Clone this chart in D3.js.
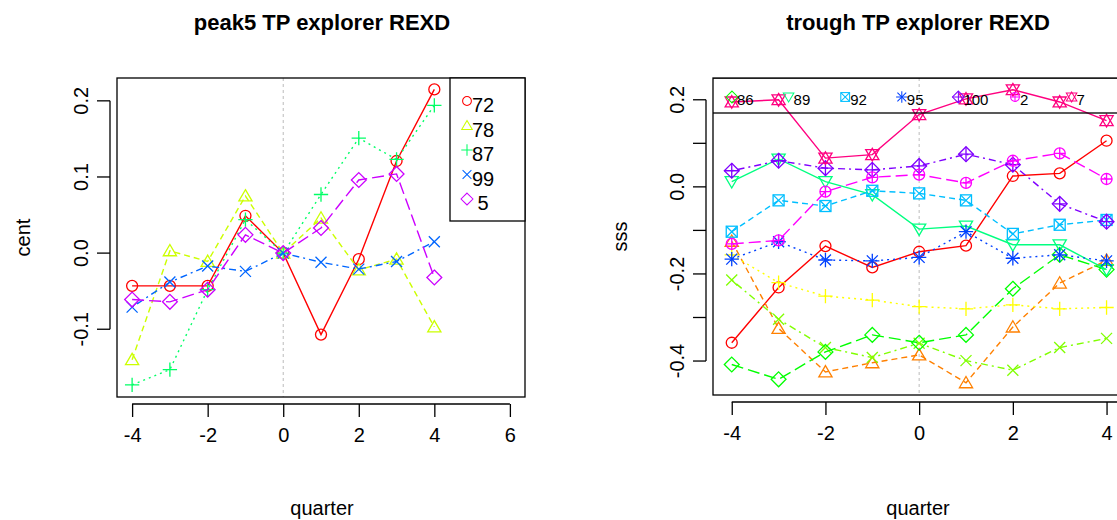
<!DOCTYPE html>
<html><head><meta charset="utf-8">
<script src="https://cdn.jsdelivr.net/npm/d3@7"></script>
<style>body{margin:0;background:#fff}svg{font-family:"Liberation Sans",Arial,sans-serif}</style>
</head><body><svg id="c" width="1117" height="520"></svg>
<script>
const quarters=[-4,-3,-2,-1,0,1,2,3,4];
const xTicks=[-4,-2,0,2,4,6];
// left panel
const leftNames=["72","78","87","99"," 5"];
const leftColors=["#FF0000","#CCFF00","#00FF66","#0066FF","#CC00FF"];
const leftVals=[
 [-0.043,-0.043,-0.043,0.049,0,-0.107,-0.008,0.121,0.215],
 [-0.14,0.003,-0.011,0.075,0,0.046,-0.022,-0.008,-0.097],
 [-0.173,-0.153,-0.048,0.044,0,0.077,0.151,0.123,0.194],
 [-0.071,-0.038,-0.017,-0.024,0,-0.012,-0.021,-0.011,0.015],
 [-0.061,-0.064,-0.048,0.024,0,0.033,0.096,0.104,-0.032]];
const leftYTicks=[-0.1,0,0.1,0.2];
// right panel
const rightNames=["74","77","80","83","86","89","92","95","100","2","7","12"];
const rightColors=["#FF0000","#FF8000","#FFFF00","#80FF00","#00FF00","#00FF80","#00BFFF","#0040FF","#8000FF","#FF00FF","#FF0080","#FF0040"];
const rightVals=[
 [-0.358,-0.231,-0.136,-0.185,-0.149,-0.135,0.025,0.031,0.106],
 [-0.125,-0.325,-0.425,-0.404,-0.386,-0.45,-0.322,-0.221,-0.169],
 [-0.156,-0.22,-0.251,-0.26,-0.275,-0.28,-0.271,-0.28,-0.277],
 [-0.214,-0.304,-0.369,-0.392,-0.359,-0.399,-0.421,-0.369,-0.348],
 [-0.408,-0.442,-0.379,-0.34,-0.358,-0.34,-0.234,-0.156,-0.19],
 [0.012,0.064,0.012,-0.018,-0.097,-0.09,-0.133,-0.133,-0.19],
 [-0.103,-0.031,-0.044,-0.009,-0.015,-0.031,-0.108,-0.087,-0.076],
 [-0.166,-0.126,-0.168,-0.17,-0.162,-0.103,-0.164,-0.156,-0.17],
 [0.037,0.06,0.043,0.039,0.048,0.075,0.051,-0.039,-0.08],
 [-0.131,-0.123,-0.011,0.022,0.028,0.009,0.06,0.077,0.018],
 [0.195,0.2,0.066,0.074,0.166,0.202,0.223,0.195,0.152],
 null];
const rightYTicks=[-0.4,-0.3,-0.2,-0.1,0,0.1,0.2];
const rightYLabels=[-0.4,-0.2,0,0.2];
const dashes=[null,"6,4","2,4","2,4,7,4","12,5"];

const svg=d3.select("#c");
const fmt=d=>d3.format(".1f")(d).replace("\u2212","-");
function sym(g,pch,x,y,col){
 const s=g.append("g").attr("transform",`translate(${x},${y})`).attr("stroke",col).attr("fill","none").attr("stroke-width",1.3);
 const r=5.5;
 const circle=()=>s.append("circle").attr("r",r);
 const tri=(d)=>s.append("path").attr("d",d>0?`M0,${-r*1.15}L${r*1.2},${r*0.9}L${-r*1.2},${r*0.9}Z`:`M0,${r*1.15}L${r*1.2},${-r*0.9}L${-r*1.2},${-r*0.9}Z`);
 const plus=()=>s.append("path").attr("d",`M${-r*1.3},0H${r*1.3}M0,${-r*1.3}V${r*1.3}`);
 const cross=()=>s.append("path").attr("d",`M${-r},${-r}L${r},${r}M${-r},${r}L${r},${-r}`);
 const diam=()=>s.append("path").attr("d",`M0,${-r*1.35}L${r*1.35},0L0,${r*1.35}L${-r*1.35},0Z`);
 const sq=()=>s.append("rect").attr("x",-r).attr("y",-r).attr("width",2*r).attr("height",2*r);
 switch(pch){
  case 1:circle();break;case 2:tri(1);break;case 3:plus();break;case 4:cross();break;case 5:diam();break;
  case 6:tri(-1);break;case 7:sq();cross();break;case 8:plus();cross();break;
  case 9:diam();s.append("path").attr("d",`M${-r*1.35},0H${r*1.35}M0,${-r*1.35}V${r*1.35}`);break;
  case 10:circle();s.append("path").attr("d",`M${-r},0H${r}M0,${-r}V${r}`);break;
  case 11:tri(1);tri(-1);break;case 12:sq();s.append("path").attr("d",`M${-r},0H${r}M0,${-r}V${r}`);break;
 }
}
function panel(o){
 const x=d3.scaleLinear().domain([-4.4,6.4]).range([o.x0,o.x0+o.w]);
 const y=d3.scaleLinear().domain(o.ydom).range([o.y1,o.y0]);
 const clipId="clip"+o.id;
 svg.append("clipPath").attr("id",clipId).append("rect").attr("x",o.x0).attr("y",o.y0).attr("width",o.w).attr("height",o.y1-o.y0);
 const g=svg.append("g").attr("clip-path",`url(#${clipId})`);
 g.append("line").attr("x1",x(0)).attr("x2",x(0)).attr("y1",o.y0).attr("y2",o.y1).attr("stroke","#bbb").attr("stroke-dasharray","3,3");
 o.vals.forEach((v,i)=>{
  if(!v)return;
  const col=o.colors[i];
  g.append("path").attr("d",d3.line().x((d,j)=>x(quarters[j])).y(d=>y(d))(v)).attr("fill","none").attr("stroke",col).attr("stroke-width",1.4).attr("stroke-dasharray",dashes[i%5]);
  v.forEach((d,j)=>sym(g,(i%12)+1,x(quarters[j]),y(d),col));
 });
 svg.append("rect").attr("x",o.x0).attr("y",o.y0).attr("width",o.w).attr("height",o.y1-o.y0).attr("fill","none").attr("stroke","#000").attr("stroke-width",1.3);
 const xa=svg.append("g").attr("transform",`translate(0,${o.y1+7})`).call(d3.axisBottom(x).tickValues(xTicks).tickSize(13).tickFormat(d=>String(d)));
 xa.select(".domain").attr("d",`M${x(-4)},0H${x(6)}`).attr("stroke-width",1.3);
 xa.selectAll("text").attr("font-size",20).attr("y",24).attr("dy","0.71em");
 const ya=svg.append("g").attr("transform",`translate(${o.x0-7},0)`).call(d3.axisLeft(y).tickValues(o.yticks).tickSize(13).tickFormat(d=>o.ylabels.some(l=>Math.abs(l-d)<1e-9)?fmt(d):""));
 ya.select(".domain").attr("d",`M0,${y(o.yticks[0])}V${y(o.yticks[o.yticks.length-1])}`).attr("stroke-width",1.3);
 ya.selectAll(".tick line").attr("stroke-width",1.3);xa.selectAll(".tick line").attr("stroke-width",1.3);
 ya.selectAll(".tick").attr("transform","translate(0,0)").each(function(d){
  d3.select(this).select("line").attr("y1",y(d)).attr("y2",y(d)).attr("x2",-13);
  d3.select(this).select("text").attr("font-size",20).attr("text-anchor","middle").attr("dy",0).attr("x",0).attr("y",0)
   .attr("transform",`translate(-22,${y(d)}) rotate(-90)`);
 });
 svg.append("text").attr("x",o.tx).attr("y",30).attr("text-anchor","middle").attr("font-size",22).attr("font-weight","bold").text(o.title);
 svg.append("text").attr("x",o.tx).attr("y",515).attr("text-anchor","middle").attr("font-size",20).text("quarter");
 svg.append("text").attr("transform",`translate(${o.ylx},${(o.y0+o.y1)/2}) rotate(-90)`).attr("text-anchor","middle").attr("font-size",20).text(o.ylab);
 return {x,y,g};
}
panel({id:"L",x0:117,w:408,y0:78,y1:397,ydom:[-0.189,0.23],vals:leftVals,colors:leftColors,yticks:leftYTicks,ylabels:leftYTicks,title:"peak5 TP explorer REXD",tx:322,ylab:"cent",ylx:30});
svg.append("rect").attr("x",450).attr("y",78).attr("width",75).attr("height",143).attr("fill","#fff").attr("stroke","#000").attr("stroke-width",1.3);
leftNames.forEach((n,i)=>{
 const yy=103+i*24.5;
 const s=svg.append("g");
 sym(s,i+1,467,yy-2,leftColors[i]);
 s.select("g").attr("transform",`translate(467,${yy-2}) scale(0.8)`);
 svg.append("text").attr("x",472).attr("y",yy+9).attr("font-size",20).style("white-space","pre").text(n);
});
panel({id:"R",x0:713,w:506,y0:78,y1:395,ydom:[-0.478,0.25],vals:rightVals,colors:rightColors,yticks:rightYTicks,ylabels:rightYLabels,title:"trough TP explorer REXD",tx:918,ylab:"sss",ylx:627});
const lg=svg.append("g").attr("clip-path","url(#clipR)");
lg.append("rect").attr("x",600).attr("y",78).attr("width",700).attr("height",35).attr("fill","none").attr("stroke","#000").attr("stroke-width",1.3);
rightNames.forEach((n,i)=>{
 const xx=732+(i-4)*56.6;
 const s=lg.append("g");
 sym(s,i+1,xx,97,rightColors[i]);
 s.select("g").attr("transform",`translate(${xx},97) scale(0.8)`);
 lg.append("text").attr("x",xx+5).attr("y",105).attr("font-size",15).text(n);
});
</script></body></html>
